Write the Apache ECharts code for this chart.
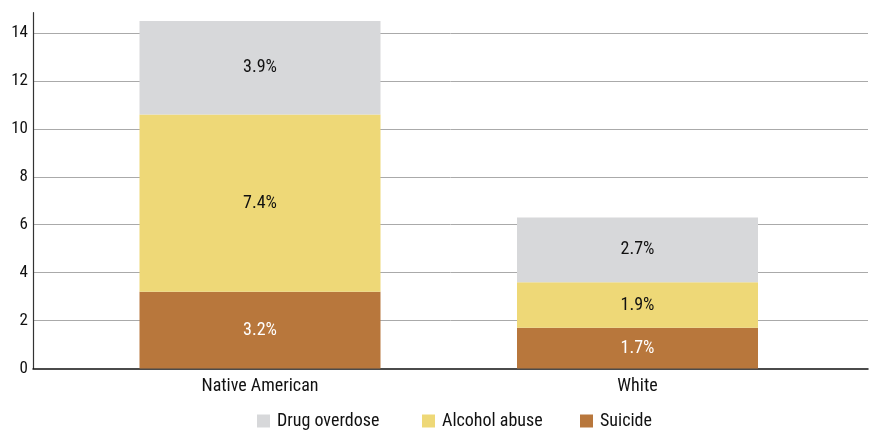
<!DOCTYPE html>
<html>
<head>
<meta charset="utf-8">
<script src="https://cdn.jsdelivr.net/npm/echarts@6/dist/echarts.min.js"></script>
<style>
  html, body { margin: 0; padding: 0; background: #fff; }
  #chart { width: 872px; height: 430px; }
</style>
</head>
<body>
<div id="chart"></div>
<script>
const categories = ['Native American', 'White']
const suicide = [3.2, 1.7]
const alcohol = [7.4, 1.9]
const drug = [3.9, 2.7]
const legendNames = ['Drug overdose', 'Alcohol abuse', 'Suicide']

const FONT = "'Liberation Sans Narrow', 'Roboto Condensed', Roboto, sans-serif"
const COLORS = { drug: '#d7d8da', alcohol: '#eed877', suicide: '#b8773c' }

const chart = echarts.init(document.getElementById('chart'), null, { renderer: 'canvas' })

const yCommon = { type: 'value', min: 0, max: 14.85, interval: 2 }
const gridCommon = { top: 12.7, bottom: 61.5 }

const barLabel = color => ({
  show: true,
  position: 'inside',
  formatter: p => p.value.toFixed(1) + '%',
  color,
  fontFamily: FONT,
  fontSize: 18,
})

const legendAt = (name, left) => ({
  data: [name],
  left,
  bottom: 0,
  padding: 0,
  icon: 'rect',
  itemWidth: 13,
  itemHeight: 13,
  itemGap: 0,
  selectedMode: false,
  textStyle: { fontFamily: FONT, fontSize: 18, color: '#111', padding: [0, 0, 0, 2] },
})

const option = {
  animation: false,
  grid: [
    { left: 33, right: 4, ...gridCommon },
    { left: 71.25, right: 45.75, ...gridCommon },
  ],
  xAxis: [
    {
      gridIndex: 0,
      type: 'category',
      data: [''],
      axisLine: { show: true, lineStyle: { color: '#111', width: 1.5 } },
      axisTick: { show: false },
      axisLabel: { show: false },
    },
    {
      gridIndex: 1,
      type: 'category',
      data: categories,
      axisLine: { show: false },
      axisTick: { show: false },
      axisLabel: { color: '#111', fontFamily: FONT, fontSize: 18, margin: 9 },
    },
  ],
  yAxis: [
    {
      gridIndex: 0,
      ...yCommon,
      axisLine: { show: true, lineStyle: { color: '#333', width: 1.2 } },
      axisTick: { show: false },
      axisLabel: { color: '#111', fontFamily: FONT, fontSize: 17, margin: 5, showMaxLabel: false },
      splitLine: { show: true, showMinLine: false, showMaxLine: false, lineStyle: { color: '#aaaaaa', width: 1 } },
    },
    { gridIndex: 1, ...yCommon, show: false, splitLine: { show: false } },
  ],
  legend: [
    legendAt(legendNames[0], 257),
    legendAt(legendNames[1], 422),
    legendAt(legendNames[2], 580),
  ],
  series: [
    {
      name: 'Suicide', type: 'bar', stack: 'total', xAxisIndex: 1, yAxisIndex: 1,
      data: suicide, barWidth: 241, itemStyle: { color: COLORS.suicide },
      label: barLabel('#ffffff'),
    },
    {
      name: 'Alcohol abuse', type: 'bar', stack: 'total', xAxisIndex: 1, yAxisIndex: 1,
      data: alcohol, barWidth: 241, itemStyle: { color: COLORS.alcohol },
      label: barLabel('#111111'),
    },
    {
      name: 'Drug overdose', type: 'bar', stack: 'total', xAxisIndex: 1, yAxisIndex: 1,
      data: drug, barWidth: 241, itemStyle: { color: COLORS.drug },
      label: barLabel('#111111'),
    },
  ],
}

chart.setOption(option)
</script>
</body>
</html>
